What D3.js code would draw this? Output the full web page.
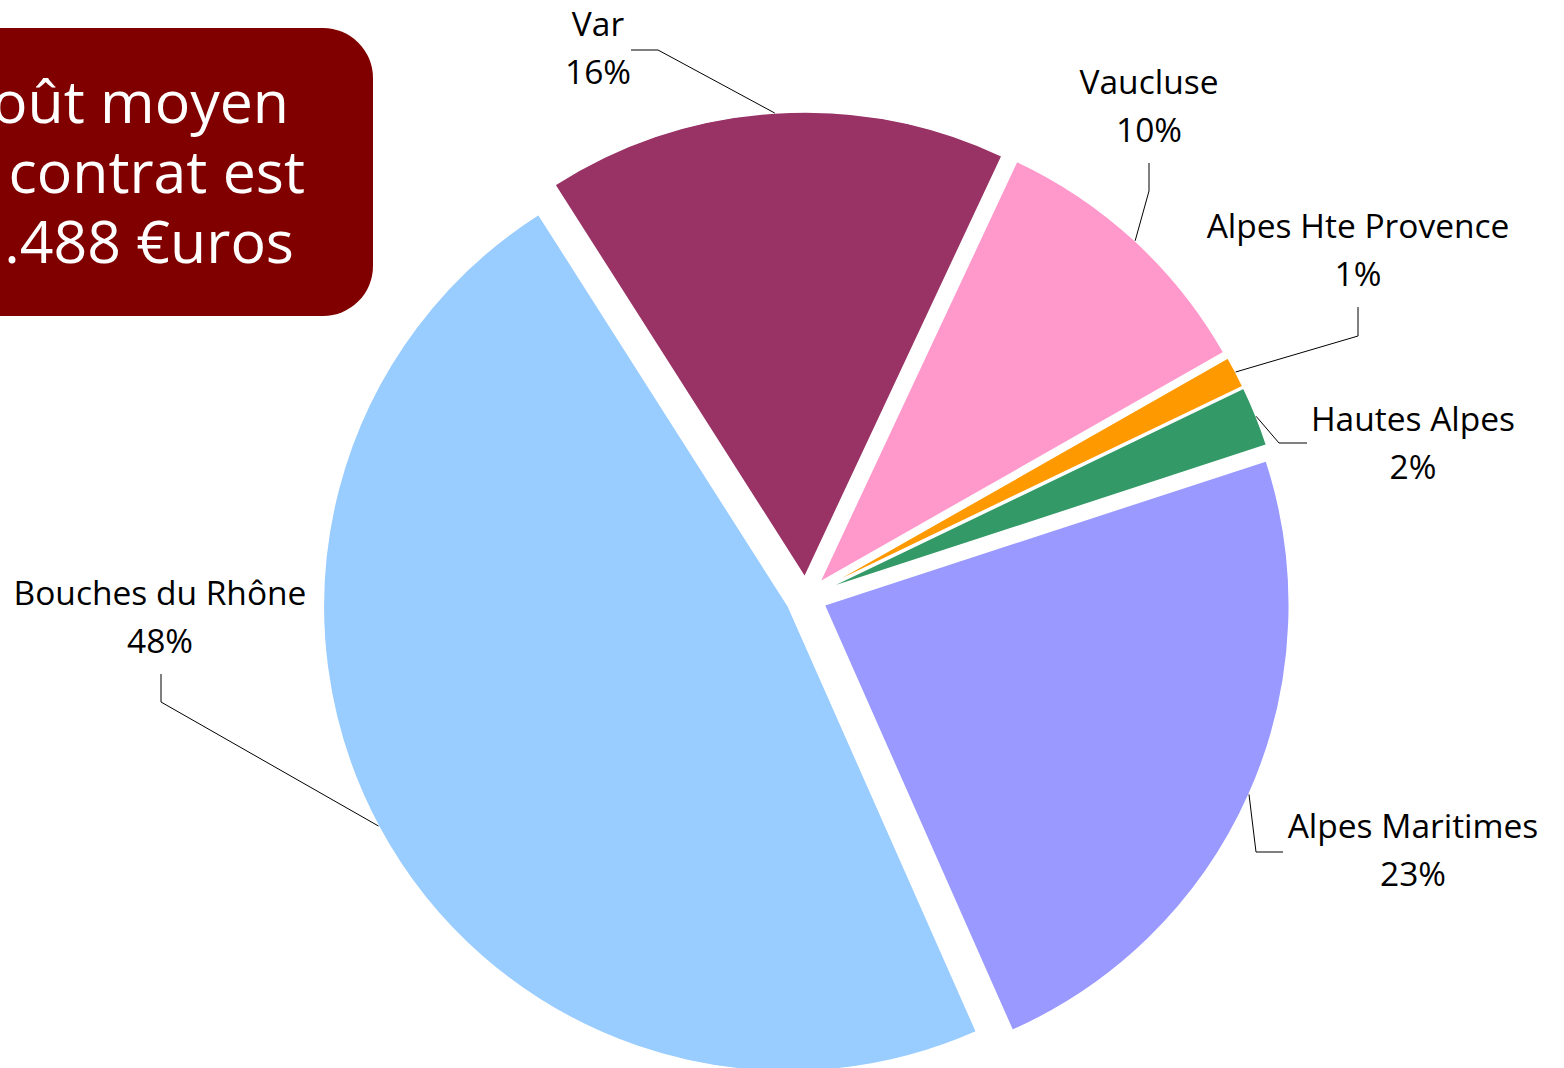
<!DOCTYPE html>
<html>
<head>
<meta charset="utf-8">
<script src="https://cdn.jsdelivr.net/npm/d3@7"></script>
<style>
  html, body { margin: 0; padding: 0; background: #fff; overflow: hidden; }
  svg { display: block; }
</style>
</head>
<body>
<div id="chart"></div>
<script>
// Départements et part (%) des contrats
const categories = ["Var", "Vaucluse", "Alpes Hte Provence", "Hautes Alpes", "Alpes Maritimes", "Bouches du Rhône"];
const values = [16.0, 9.8, 1.1, 2.1, 23.4, 47.6];
const colors = ["#993366", "#FF99CC", "#FF9900", "#339966", "#9999FF", "#99CCFF"];
const boxLines = ["Le coût moyen", "du contrat est", "de 1.488 €uros"];

const width = 1564;
const height = 1068;
const cx = 806, cy = 597;
const radius = 465;
const explode = 20;
const startDeg = -32.5;
const font = "'Open Sans', 'DejaVu Sans', sans-serif";

// label placement (text centre / first baseline) and leader start + elbow
const labelLayout = [
  { x: 598,  y: 36,  from: [631, 50],  elbow: [658, 50] },
  { x: 1149, y: 94,  from: [1149, 163], elbow: [1149, 191] },
  { x: 1358, y: 238, from: [1358, 307], elbow: [1358, 336] },
  { x: 1413, y: 431, from: [1307, 443], elbow: [1279, 443] },
  { x: 1413, y: 838, from: [1283, 852], elbow: [1256, 852] },
  { x: 160,  y: 605, from: [161, 674],  elbow: [161, 702] }
];

const svg = d3.select("#chart")
  .append("svg")
  .attr("width", width)
  .attr("height", height);

const pie = d3.pie()
  .sort(null)
  .value(d => d)
  .startAngle(startDeg * Math.PI / 180)
  .endAngle((360 + startDeg) * Math.PI / 180);

const arc = d3.arc().innerRadius(0).outerRadius(radius);
const arcs = pie(values);

const offset = d => {
  const mid = (d.startAngle + d.endAngle) / 2;
  return [Math.sin(mid) * explode, -Math.cos(mid) * explode];
};

const g = svg.append("g").attr("transform", `translate(${cx},${cy})`);

g.selectAll("path.slice")
  .data(arcs)
  .enter()
  .append("path")
  .attr("class", "slice")
  .attr("transform", d => `translate(${offset(d)[0]},${offset(d)[1]})`)
  .attr("d", arc)
  .attr("fill", (d, i) => colors[i])
  .attr("stroke", "#fff")
  .attr("stroke-width", 1.5);

// leader lines
svg.selectAll("polyline.leader")
  .data(arcs)
  .enter()
  .append("polyline")
  .attr("class", "leader")
  .attr("points", (d, i) => {
    const mid = (d.startAngle + d.endAngle) / 2;
    const o = offset(d);
    const ex = cx + o[0] + Math.sin(mid) * radius;
    const ey = cy + o[1] - Math.cos(mid) * radius;
    const L = labelLayout[i];
    return [L.from, L.elbow, [ex, ey]].map(p => p.join(",")).join(" ");
  })
  .attr("fill", "none")
  .attr("stroke", "#000")
  .attr("stroke-width", 1);

// labels
const labels = svg.selectAll("text.label")
  .data(arcs)
  .enter()
  .append("text")
  .attr("class", "label")
  .attr("text-anchor", "middle")
  .style("font-family", font)
  .style("font-size", "33.5px")
  .style("fill", "#000");

labels.append("tspan")
  .attr("x", (d, i) => labelLayout[i].x)
  .attr("y", (d, i) => labelLayout[i].y)
  .text((d, i) => categories[i]);

labels.append("tspan")
  .attr("x", (d, i) => labelLayout[i].x)
  .attr("y", (d, i) => labelLayout[i].y + 48)
  .text(d => d3.format(".0f")(d.value) + "%");

// info box (partly off the left edge, as in the original slide)
svg.append("rect")
  .attr("x", -120)
  .attr("y", 28)
  .attr("width", 493)
  .attr("height", 288)
  .attr("rx", 50)
  .attr("fill", "#800000");

svg.selectAll("text.box")
  .data(boxLines)
  .enter()
  .append("text")
  .attr("class", "box")
  .attr("x", (d, i) => [289, 305, 294][i])
  .attr("y", (d, i) => 123 + i * 70)
  .attr("text-anchor", "end")
  .style("font-family", font)
  .style("font-size", "59px")
  .style("fill", "#fff")
  .text(d => d);
</script>
</body>
</html>
